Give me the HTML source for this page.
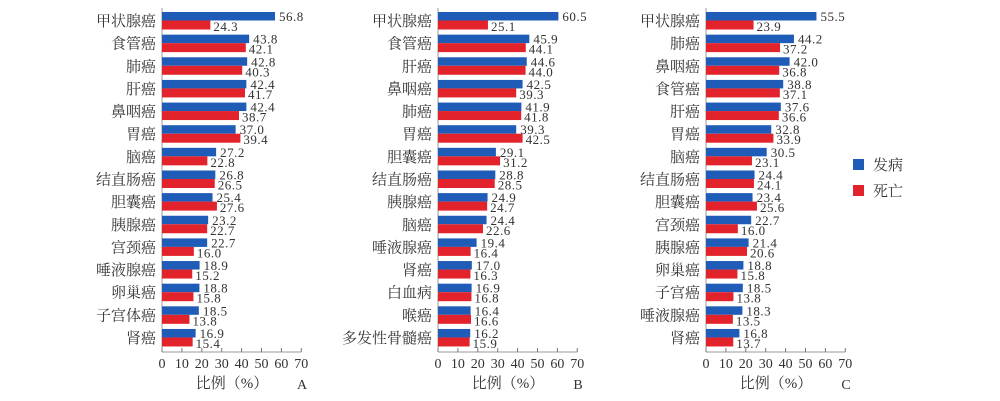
<!DOCTYPE html>
<html><head><meta charset="utf-8"><style>
body{margin:0;background:#fff;}
svg{display:block;font-family:"Liberation Serif","Noto Serif CJK SC",serif;}
</style></head><body>
<svg id="chart" width="1000" height="401" viewBox="0 0 1000 401"></svg>
<script>
const catsA=["甲状腺癌","食管癌","肺癌","肝癌","鼻咽癌","胃癌","脑癌","结直肠癌","胆囊癌","胰腺癌","宫颈癌","唾液腺癌","卵巢癌","子宫体癌","肾癌"];
const incA=[56.8,43.8,42.8,42.4,42.4,37.0,27.2,26.8,25.4,23.2,22.7,18.9,18.8,18.5,16.9];
const mortA=[24.3,42.1,40.3,41.7,38.7,39.4,22.8,26.5,27.6,22.7,16.0,15.2,15.8,13.8,15.4];
const catsB=["甲状腺癌","食管癌","肝癌","鼻咽癌","肺癌","胃癌","胆囊癌","结直肠癌","胰腺癌","脑癌","唾液腺癌","肾癌","白血病","喉癌","多发性骨髓癌"];
const incB=[60.5,45.9,44.6,42.5,41.9,39.3,29.1,28.8,24.9,24.4,19.4,17.0,16.9,16.4,16.2];
const mortB=[25.1,44.1,44.0,39.3,41.8,42.5,31.2,28.5,24.7,22.6,16.4,16.3,16.8,16.6,15.9];
const catsC=["甲状腺癌","肺癌","鼻咽癌","食管癌","肝癌","胃癌","脑癌","结直肠癌","胆囊癌","宫颈癌","胰腺癌","卵巢癌","子宫癌","唾液腺癌","肾癌"];
const incC=[55.5,44.2,42.0,38.8,37.6,32.8,30.5,24.4,23.4,22.7,21.4,18.8,18.5,18.3,16.8];
const mortC=[23.9,37.2,36.8,37.1,36.6,33.9,23.1,24.1,25.6,16.0,20.6,15.8,13.8,13.5,13.7];
const ticks=[0,10,20,30,40,50,60,70];
const NS="http://www.w3.org/2000/svg";
const svg=document.getElementById('chart');
function mk(t,a,p){const e=document.createElementNS(NS,t);for(const k in a)e.setAttribute(k,a[k]);(p||svg).appendChild(e);return e;}
const BLUE="#1f5cb8",RED="#e3232b",TXT="#333";
function panel(id,x0,cats,inc,mort,letter){
  const g=mk('g',{});
  
  
  const sx=v=>x0+v*1.99;
  const top=12,pitch=22.64,axisBottom=352;
  const yr=i=>top+i*pitch;
  const ax=mk('line',{x1:x0,y1:8,x2:x0,y2:axisBottom,stroke:'#999','stroke-width':1},g);
  
  
  const xa=mk('line',{x1:x0,y1:axisBottom,x2:sx(70),y2:axisBottom,stroke:'#999','stroke-width':1},g);
  
  
  ticks.forEach(t=>{
    mk('line',{x1:sx(t),y1:axisBottom,x2:sx(t),y2:axisBottom-4,stroke:'#777'},g);
    const tl=mk('text',{x:sx(t),y:368,'text-anchor':'middle','font-size':14,fill:TXT},g);
    tl.textContent=t;
    
    
  });
  cats.forEach((c,i)=>{
    const y=yr(i);
    const lb=mk('text',{x:x0-6,y:y+14,'text-anchor':'end','font-size':15,fill:TXT},g);
    lb.textContent=c;
    
    
    const b=mk('rect',{x:x0,y:y,width:sx(inc[i])-x0,height:8.5,fill:BLUE},g);
    
    
    const r=mk('rect',{x:x0,y:y+8.5,width:sx(mort[i])-x0,height:9,fill:RED},g);
    
    
    const bv=mk('text',{x:sx(inc[i])+4,y:y+9,'font-size':13,fill:TXT,'letter-spacing':'0.5'},g);
    bv.textContent=inc[i].toFixed(1);
    
    
    const rv=mk('text',{x:sx(mort[i])+3,y:y+19,'font-size':13,fill:TXT,'letter-spacing':'0.5'},g);
    rv.textContent=mort[i].toFixed(1);
    
    
  });
  const at=mk('text',{x:x0+70,y:388,'text-anchor':'middle','font-size':15,fill:TXT},g);
  at.textContent='比例（%）';
  
  
  const pl=mk('text',{x:x0+140,y:389,'text-anchor':'middle','font-size':14,fill:TXT},g);
  pl.textContent=letter;
  
  
}
panel('a',162,catsA,incA,mortA,'A');
panel('b',438,catsB,incB,mortB,'B');
panel('c',706,catsC,incC,mortC,'C');
const lg=mk('g',{});


[["发病",BLUE,159],["死亡",RED,185]].forEach(([t,c,y])=>{
  const s=mk('rect',{x:853,y:y,width:11,height:11,fill:c},lg);
  
  
  const tx=mk('text',{x:873,y:y+11,'font-size':15,fill:TXT},lg);
  tx.textContent=t;
  
  
});
</script>
</body></html>
